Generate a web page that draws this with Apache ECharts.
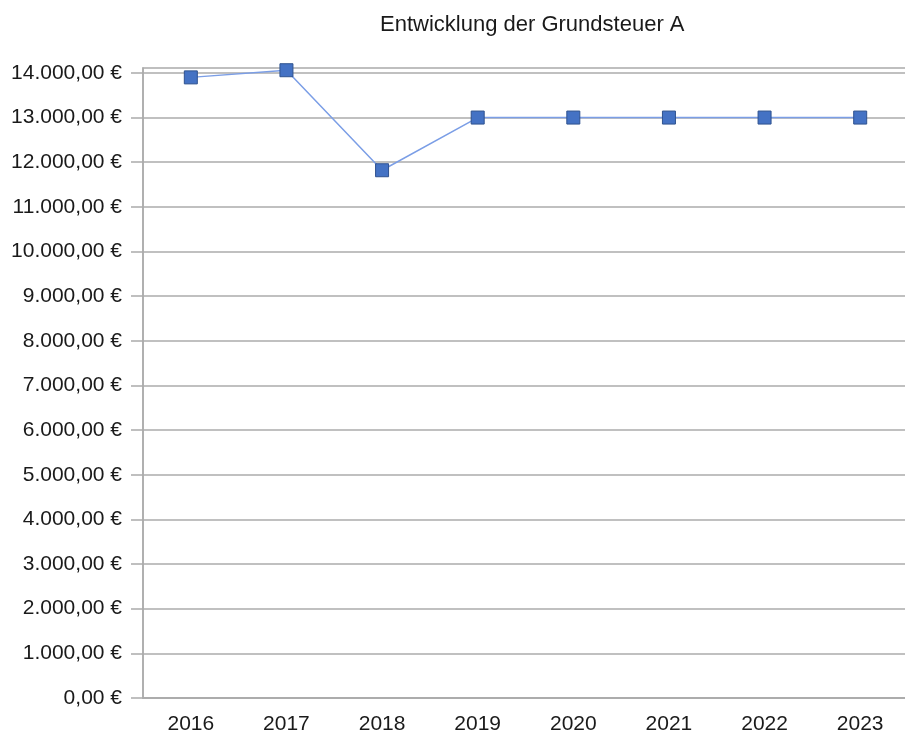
<!DOCTYPE html>
<html>
<head>
<meta charset="utf-8">
<title>Entwicklung der Grundsteuer A</title>
<script src="https://cdn.jsdelivr.net/npm/echarts@6/dist/echarts.min.js"></script>
<style>
  html, body { margin: 0; padding: 0; background: #fff; }
  #chart { width: 905px; height: 738px; }
</style>
</head>
<body>
<div id="chart"></div>
<script>
// Daten
const years = ['2016', '2017', '2018', '2019', '2020', '2021', '2022', '2023']
const grundsteuerA = [13900, 14060, 11820, 13000, 13000, 13000, 13000, 13000]
const yTicks = [0, 1000, 2000, 3000, 4000, 5000, 6000, 7000, 8000, 9000, 10000, 11000, 12000, 13000, 14000]

const font = 'Liberation Sans, Arial, sans-serif'
const gridColor = '#ababab'

// Euro-Format: 14.000,00 €
const formatEuro = (v) => {
  const parts = Number(v).toFixed(2).split('.')
  const int = parts[0].replace(/\B(?=(\d{3})+(?!\d))/g, '.')
  return int + ',' + parts[1] + ' €'
}

const chart = echarts.init(document.getElementById('chart'))

const option = {
  backgroundColor: '#ffffff',
  animation: false,
  title: {
    text: 'Entwicklung der Grundsteuer A',
    left: 375,
    top: 9,
    textStyle: {
      fontFamily: font,
      fontSize: 22,
      fontWeight: 'normal',
      color: '#1a1a1a'
    }
  },
  // Plotfläche reicht rechts etwas über den Rand hinaus
  grid: {
    show: true,
    left: 143,
    width: 765,
    top: 68,
    bottom: 40,
    outerBoundsMode: 'none',
    containLabel: false,
    borderColor: gridColor,
    borderWidth: 1.5,
    backgroundColor: 'transparent'
  },
  xAxis: {
    type: 'category',
    data: years,
    boundaryGap: true,
    axisLine: { lineStyle: { color: gridColor, width: 1.5 } },
    axisTick: { alignWithLabel: true, length: 10, lineStyle: { color: gridColor, width: 1.5 } },
    axisLabel: {
      margin: 16,
      fontFamily: font,
      fontSize: 21,
      color: '#1a1a1a'
    },
    splitLine: { show: false }
  },
  yAxis: {
    type: 'value',
    min: 0,
    max: 14110,
    interval: 1000,
    axisLine: { show: true, lineStyle: { color: gridColor, width: 1.5 } },
    axisTick: {
      show: true,
      length: 12,
      customValues: yTicks,
      lineStyle: { color: gridColor, width: 1.5 }
    },
    axisLabel: {
      margin: 21,
      customValues: yTicks,
      fontFamily: font,
      fontSize: 21,
      color: '#1a1a1a',
      formatter: formatEuro
    },
    splitLine: { show: true, lineStyle: { color: gridColor, width: 1.5 } }
  },
  series: [{
    name: 'Grundsteuer A',
    type: 'line',
    data: grundsteuerA,
    symbol: 'rect',
    symbolSize: 13,
    lineStyle: { color: '#7b9ee6', width: 1.5 },
    itemStyle: { color: '#4472c4', borderColor: '#2f528f', borderWidth: 1 }
  }]
}

chart.setOption(option)
</script>
</body>
</html>
